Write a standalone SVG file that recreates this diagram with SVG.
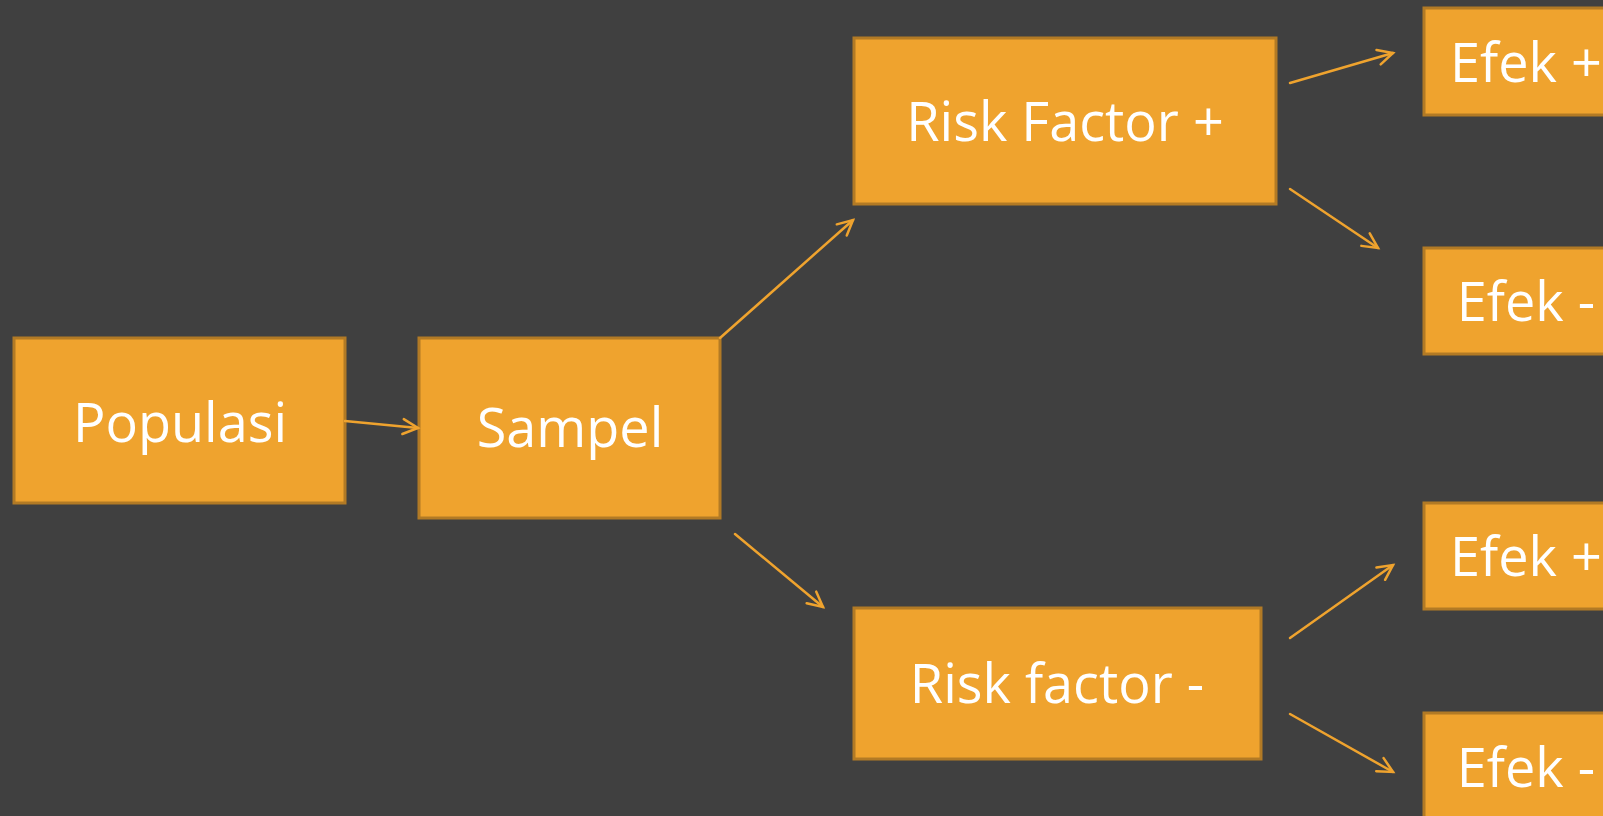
<svg xmlns="http://www.w3.org/2000/svg" width="1603" height="816" viewBox="0 0 1603 816">
<defs>
<style>
.box{fill:#EFA32E;stroke:#B27A25;stroke-width:3}
.lbl{font-family:"Open Sans","Liberation Sans",sans-serif;font-size:54px;fill:#FFFFFF;text-anchor:middle}
.conn{stroke:#EFA32E;stroke-width:2.5;fill:none;stroke-linecap:round}
</style>
<marker id="arr" viewBox="-17 -10 20 20" refX="0" refY="0" markerWidth="20" markerHeight="20" markerUnits="userSpaceOnUse" orient="auto">
<path d="M-15,-7.5 L0,0 L-15,7.5" fill="none" stroke="#EFA32E" stroke-width="2.5" stroke-linecap="round" stroke-linejoin="miter"/>
</marker>
</defs>
<rect width="1603" height="816" fill="#404040"/>
<g id="populasi"><rect class="box" x="14" y="338" width="331" height="165"/><text class="lbl" x="180" y="442">Populasi</text></g>
<g id="sampel"><rect class="box" x="419" y="338" width="301" height="180"/><text class="lbl" x="570" y="447">Sampel</text></g>
<g id="rf-plus"><rect class="box" x="854" y="38" width="422" height="166"/><text class="lbl" x="1065" y="141">Risk Factor +</text></g>
<g id="rf-minus"><rect class="box" x="854" y="608" width="407" height="151"/><text class="lbl" x="1057" y="703">Risk factor -</text></g>
<g id="efek-plus-1"><rect class="box" x="1424" y="8" width="204" height="107"/><text class="lbl" x="1526" y="82">Efek +</text></g>
<g id="efek-minus-1"><rect class="box" x="1424" y="248" width="204" height="106"/><text class="lbl" x="1526" y="321">Efek -</text></g>
<g id="efek-plus-2"><rect class="box" x="1424" y="503" width="204" height="106"/><text class="lbl" x="1526" y="576">Efek +</text></g>
<g id="efek-minus-2"><rect class="box" x="1424" y="713" width="204" height="110"/><text class="lbl" x="1526" y="787">Efek -</text></g>
<g id="connectors">
<line class="conn" x1="345" y1="421" x2="418" y2="428" marker-end="url(#arr)"/>
<line class="conn" x1="720" y1="338" x2="853" y2="220" marker-end="url(#arr)"/>
<line class="conn" x1="735" y1="534" x2="823" y2="607" marker-end="url(#arr)"/>
<line class="conn" x1="1290" y1="83" x2="1393" y2="53" marker-end="url(#arr)"/>
<line class="conn" x1="1290" y1="189" x2="1378" y2="248" marker-end="url(#arr)"/>
<line class="conn" x1="1290" y1="638" x2="1393" y2="565" marker-end="url(#arr)"/>
<line class="conn" x1="1290" y1="714" x2="1393" y2="772" marker-end="url(#arr)"/>
</g>
</svg>
